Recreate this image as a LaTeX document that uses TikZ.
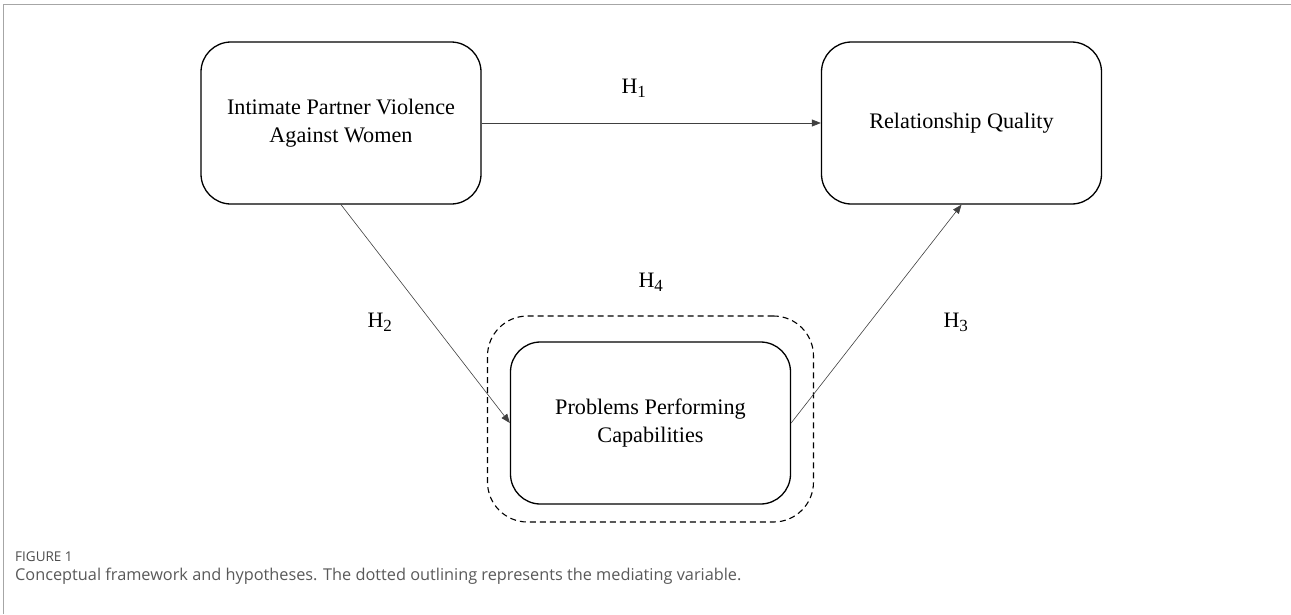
\documentclass[tikz,border=0pt]{standalone}
\usepackage{fontspec}
\setmainfont{Liberation Serif}
\newfontfamily\capfont{Open Sans}
\usetikzlibrary{arrows.meta}
\newcommand{\hyp}[1]{H\textsubscript{\fontsize{17}{17}\selectfont #1}}
\begin{document}
\begin{tikzpicture}[x=1pt,y=-1pt,
  varbox/.style={draw, line width=1.3pt, rounded corners=30pt, minimum width=280pt, minimum height=162pt, align=center, font=\fontsize{22.2}{28}\selectfont, inner sep=0pt},
  medbox/.style={draw, line width=1.1pt, rounded corners=40pt, dash pattern=on 6pt off 4pt},
  link/.style={draw=black!75, line width=0.6pt, -{Triangle[length=9pt,width=7pt]}},
  hlabel/.style={font=\fontsize{22}{26}\selectfont}
]
\useasboundingbox (0,0) rectangle (1291,614);
\draw[gray!70, line width=1pt] (1291,4) -- (3,4) -- (3,614);
\node[varbox] (ipv) at (341,123) {Intimate Partner Violence\\Against Women};
\node[varbox] (rq) at (961.5,123) {Relationship Quality};
\node[varbox] (ppc) at (650.5,423) {Problems Performing\\Capabilities};
\node[medbox, minimum width=326pt, minimum height=206pt] (med) at (650.5,419) {};
\draw[link] (ipv.east) -- (rq.west);
\draw[link] (ipv.south) -- (ppc.west);
\draw[link] (ppc.east) -- (rq.south);
\node[hlabel] (h1) at (634,88) {\hyp{1}};
\node[hlabel] (h2) at (380,322) {\hyp{2}};
\node[hlabel] (h3) at (956,322) {\hyp{3}};
\node[hlabel] (h4) at (651,282) {\hyp{4}};
\node[anchor=west, font=\capfont\fontsize{13.5}{15}\selectfont, text=black!70, inner sep=0pt] (fig) at (15,557) {FIGURE 1};
\node[anchor=west, font=\capfont\fontsize{16.3}{19}\selectfont, text=black!65, inner sep=0pt] (cap) at (15,576) {Conceptual framework and hypotheses. The dotted outlining represents the mediating variable.};
\end{tikzpicture}
\end{document}
